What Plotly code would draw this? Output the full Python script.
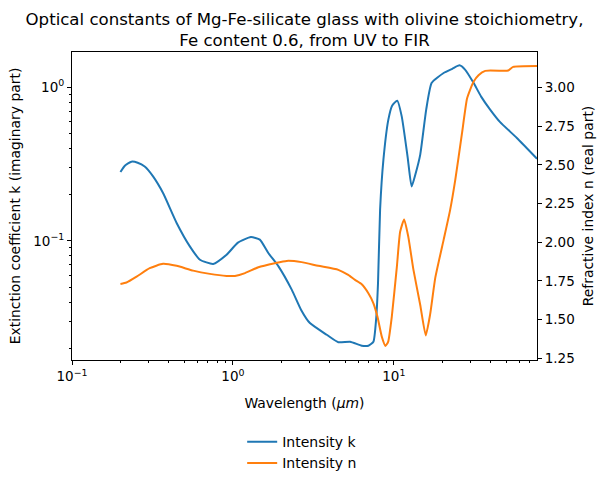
import plotly.graph_objects as go

# Wavelength grid (micrometres) and extinction coefficient k (imaginary part)
wl_k = [0.200, 0.213, 0.234, 0.256, 0.283, 0.319, 0.368, 0.447, 0.540, 0.624,
        0.754, 0.914, 1.075, 1.294, 1.47, 1.66, 1.92, 2.32, 2.65, 3.01,
        3.83, 4.52, 5.35, 6.32, 6.95, 7.47, 7.76, 7.98, 8.22, 8.62,
        9.25, 9.76, 10.5, 11.2, 12.2, 12.9, 13.6, 14.6, 15.9, 17.2,
        20.4, 23.1, 25.6, 27.8, 31.3, 34.9, 39.7, 45.8, 58.2, 77.6]
k_vals = [0.281, 0.309, 0.328, 0.323, 0.305, 0.263, 0.205, 0.131, 0.0922, 0.0755,
          0.0709, 0.0814, 0.0975, 0.106, 0.102, 0.0835, 0.0683, 0.0482, 0.0357, 0.0292,
          0.0245, 0.0219, 0.0221, 0.0208, 0.0208, 0.0221, 0.0307, 0.0535, 0.160, 0.338,
          0.616, 0.760, 0.819, 0.647, 0.349, 0.226, 0.270, 0.365, 0.716, 1.07,
          1.24, 1.32, 1.39, 1.30, 1.07, 0.870, 0.716, 0.593, 0.468, 0.343]

# Wavelength grid (micrometres) and refractive index n (real part)
wl_n = [0.200, 0.218, 0.252, 0.304, 0.368, 0.447, 0.566, 0.719, 0.914, 1.03,
        1.19, 1.44, 1.82, 2.16, 2.67, 3.39, 4.52, 5.21, 5.74, 6.32,
        6.95, 7.47, 7.91, 8.42, 8.87, 9.22, 9.72, 10.45, 10.95, 11.6,
        12.3, 13.25, 14.6, 15.8, 16.8, 18.1, 20.4, 22.4, 24.1, 26.5,
        28.5, 29.8, 31.3, 33.6, 37.0, 48.1, 51.4, 55.2, 77.6]
n_vals = [1.730, 1.739, 1.777, 1.832, 1.860, 1.847, 1.816, 1.795, 1.782, 1.782,
          1.800, 1.838, 1.864, 1.879, 1.871, 1.847, 1.821, 1.788, 1.756, 1.728,
          1.670, 1.605, 1.519, 1.389, 1.329, 1.355, 1.519, 1.842, 2.067, 2.147,
          2.036, 1.821, 1.594, 1.397, 1.530, 1.769, 2.015, 2.209, 2.403, 2.700,
          2.927, 2.985, 3.037, 3.080, 3.108, 3.108, 3.110, 3.134, 3.140]

x_tickvals = [0.1, 1, 10]
x_ticktext = ["10<sup>−1</sup>", "10<sup>0</sup>", "10<sup>1</sup>"]
yk_tickvals = [0.1, 1]
yk_ticktext = ["10<sup>−1</sup>", "10<sup>0</sup>"]
yn_tickvals = [1.25, 1.50, 1.75, 2.00, 2.25, 2.50, 2.75, 3.00]

series_names = ["Intensity k", "Intensity n"]
colors = ["#1f77b4", "#ff7f0e"]

FONT = "DejaVu Sans"

x_minor = [m * 10 ** e for e in (-1, 0, 1) for m in range(2, 10)]
y_minor = [m * 10 ** e for e in (-2, -1) for m in range(2, 10)]

fig = go.Figure()
fig.add_trace(go.Scatter(x=wl_k, y=k_vals, name=series_names[0], mode="lines",
                         line=dict(color=colors[0], width=2, shape="spline", smoothing=0.5)))
fig.add_trace(go.Scatter(x=wl_n, y=n_vals, name=series_names[1], mode="lines",
                         yaxis="y2",
                         line=dict(color=colors[1], width=2, shape="spline", smoothing=0.5)))

axis_common = dict(showgrid=False, zeroline=False, showline=True, linecolor="black",
                   linewidth=1, ticks="outside", ticklen=4, tickwidth=1, automargin=False,
                   tickcolor="black", tickfont=dict(family=FONT, size=13.5, color="black"))

fig.update_layout(
    width=607, height=485,
    margin=dict(l=72, r=70, t=52, b=125, autoexpand=False),
    paper_bgcolor="white", plot_bgcolor="white",
    font=dict(family=FONT, color="black"),
    title=dict(text="Optical constants of Mg-Fe-silicate glass with olivine stoichiometry,<br>Fe content 0.6, from UV to FIR",
               x=0.5, xanchor="center", xref="paper", y=0.949, yanchor="top",
               font=dict(family=FONT, size=16.6, color="black")),
    xaxis=dict(type="log", range=[-1, 1.890], mirror=True,
               tickmode="array", tickvals=x_tickvals, ticktext=x_ticktext,
               minor=dict(tickmode="array", tickvals=x_minor, ticks="outside",
                          ticklen=2, tickcolor="black", showgrid=False),
               title=dict(text="Wavelength (<i>μm</i>)", font=dict(family=FONT, size=13.9),
                          standoff=15),
               **axis_common),
    yaxis=dict(type="log", range=[-1.775, 0.230],
               tickmode="array", tickvals=yk_tickvals, ticktext=yk_ticktext,
               minor=dict(tickmode="array", tickvals=y_minor, ticks="outside",
                          ticklen=2, tickcolor="black", showgrid=False),
               title=dict(text="Extinction coefficient k (imaginary part)",
                          font=dict(family=FONT, size=13.9), standoff=9),
               **axis_common),
    yaxis2=dict(overlaying="y", side="right", range=[1.238, 3.230],
                tickmode="array", tickvals=yn_tickvals,
                ticktext=[f"{v:.2f}" for v in yn_tickvals],
                title=dict(text="Refractive index n (real part)",
                           font=dict(family=FONT, size=13.9), standoff=9),
                **axis_common),
    legend=dict(orientation="v", x=0.495, xanchor="center", y=-0.215, yanchor="top",
                font=dict(family=FONT, size=14, color="black"),
                bgcolor="rgba(0,0,0,0)", tracegroupgap=0),
    showlegend=True,
)

fig.write_html("out.html", config={"displayModeBar": False},
               post_script="document.body.style.margin='0';")
